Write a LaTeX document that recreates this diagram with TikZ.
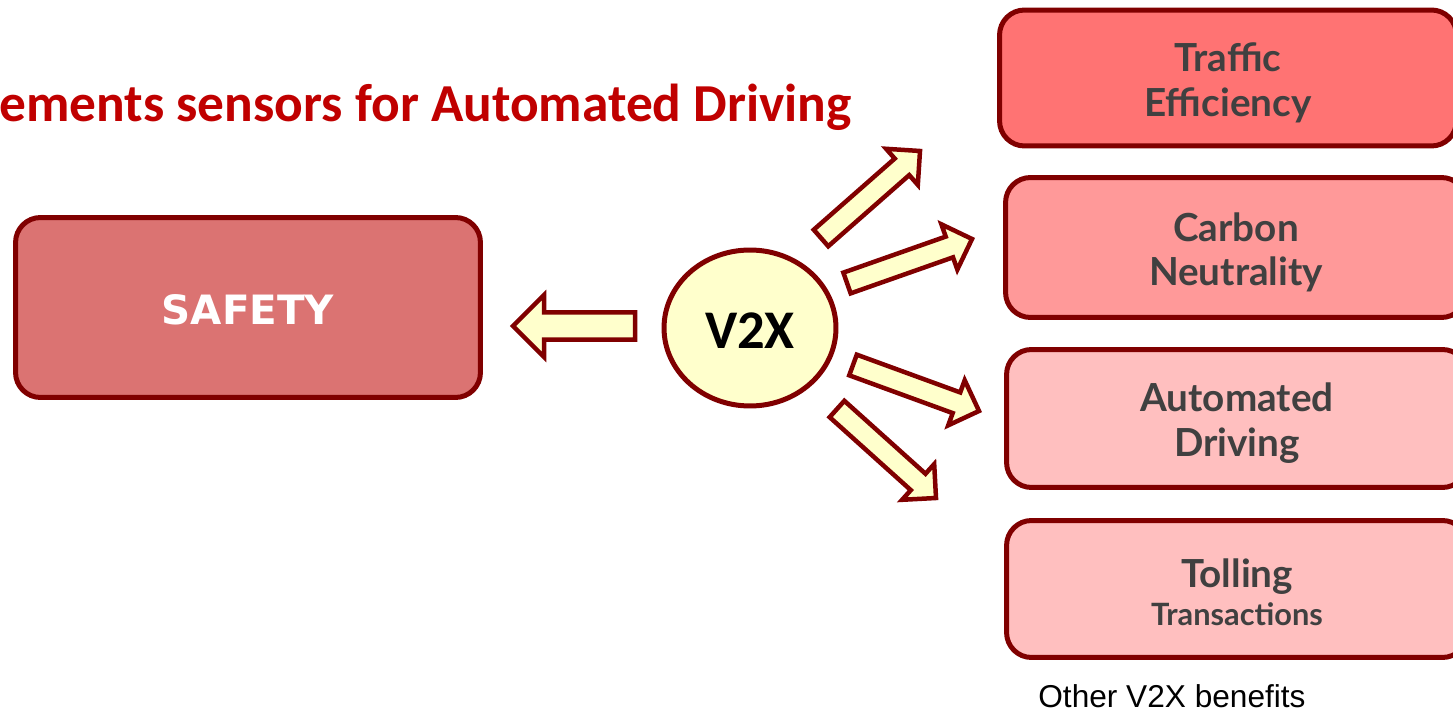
\documentclass[tikz,border=0pt]{standalone}
\usepackage{fontspec}
\setmainfont{Liberation Sans}
\newfontfamily\calibri{Carlito}
\newfontfamily\gill{Lato}
\newfontfamily\verd{DejaVu Sans}
\usetikzlibrary{calc,shapes.geometric}
\definecolor{dred}{HTML}{800000}
\definecolor{titlered}{HTML}{C00000}
\definecolor{tgray}{HTML}{404040}
\definecolor{safetyfill}{HTML}{DB7372}
\definecolor{trafficfill}{HTML}{FF7373}
\definecolor{carbonfill}{HTML}{FF9999}
\definecolor{lightfill}{HTML}{FFBFBF}
\definecolor{yel}{HTML}{FFFFCC}
\tikzset{
  box/.style={draw=dred, line width=0.1cm, rounded corners=0.5cm, align=center},
  benefit/.style={box, text=tgray, font=\gill\bfseries\fontsize{22}{25.5}\selectfont,
    minimum width=9.22cm},
  arrowshape/.style={draw=dred, fill=yel, line width=0.09cm, line join=miter}
}
\newcommand\blockarrow[5]{%
  \path ($(#2)!#5!(#1)$) coordinate (hb-#1);
  \draw[arrowshape] ($(#1)!#3!90:(#2)$) -- ($(hb-#1)!#3!90:(#2)$) -- ($(hb-#1)!#4!90:(#2)$)
    -- (#2) -- ($(hb-#1)!#4!-90:(#2)$) -- ($(hb-#1)!#3!-90:(#2)$) -- ($(#1)!#3!-90:(#2)$) -- cycle;
}
\newcommand\upstrut[1]{\rule{0pt}{#1}}
\begin{document}
\begin{tikzpicture}[x=0.02cm,y=-0.02cm]
\useasboundingbox (0,0) rectangle (1453,712);
\clip (0,0) rectangle (1453,712);
\fill[white] (0,0) rectangle (1453,712);

% title (cut at the left edge)
\node[anchor=base west, inner sep=0pt, text=titlered, font=\calibri\bfseries\fontsize{30.4}{36}\selectfont] (title) at (-1,122) {ements sensors for Automated Driving};

% safety box
\node[box, fill=safetyfill, minimum width=9.3cm, minimum height=3.6cm, text=white,
  font=\verd\bfseries\fontsize{23}{27}\selectfont] (safety) at (248,307.5) {\upstrut{20pt}SAFETY};

% V2X ellipse
\node[ellipse, draw=dred, line width=0.1cm, fill=yel, minimum width=3.44cm, minimum height=3.12cm,
  inner sep=0pt, font=\calibri\bfseries\fontsize{31}{36}\selectfont] (v2x) at (750,328) {\upstrut{23pt}V2X};

% benefit boxes
\node[benefit, fill=trafficfill, minimum width=9.14cm, minimum height=2.72cm] (traffic) at (1228,78) {\upstrut{22pt}Traffic\\Efficiency};
\node[benefit, fill=carbonfill, minimum height=2.8cm] (carbon) at (1236,247.5) {\upstrut{22pt}Carbon\\Neutrality};
\node[benefit, fill=lightfill, minimum height=2.76cm] (auto) at (1237,418.5) {\upstrut{22pt}Automated\\Driving};
\node[benefit, fill=lightfill, minimum height=2.74cm] (toll) at (1237,589) {\upstrut{20pt}Tolling\\[-4pt]{\fontsize{17.5}{20}\selectfont Transactions}};

% caption
\node[anchor=base west, inner sep=0pt, font=\fontsize{18}{21}\selectfont] (other) at (1038,707) {Other V2X benefits};

% block arrows
\coordinate (t0) at (635,326);  \coordinate (p0) at (513,326);
\coordinate (t1) at (821,238);  \coordinate (p1) at (920,151);
\coordinate (t2) at (847,283);  \coordinate (p2) at (972,239);
\coordinate (t3) at (853,365);  \coordinate (p3) at (979,411);
\coordinate (t4) at (837,409);  \coordinate (p4) at (936,498);
\blockarrow{t0}{p0}{0.275cm}{0.62cm}{0.62cm}
\blockarrow{t1}{p1}{0.22cm}{0.48cm}{0.48cm}
\blockarrow{t2}{p2}{0.22cm}{0.48cm}{0.48cm}
\blockarrow{t3}{p3}{0.22cm}{0.48cm}{0.48cm}
\blockarrow{t4}{p4}{0.22cm}{0.48cm}{0.48cm}
\end{tikzpicture}
\end{document}
